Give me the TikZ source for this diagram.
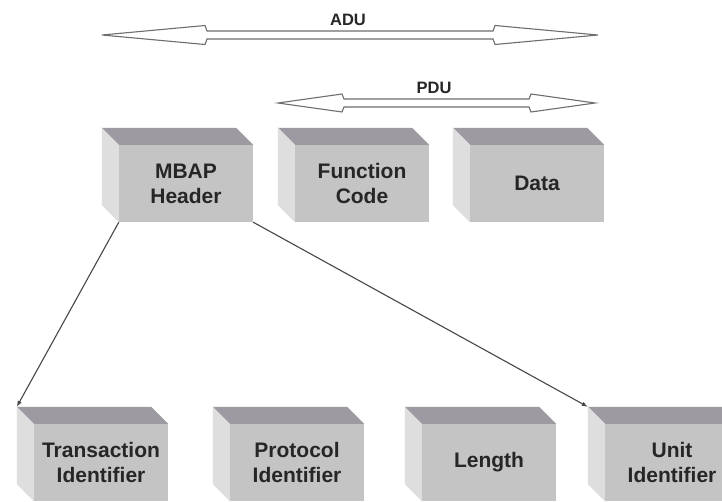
\documentclass[tikz,border=0pt]{standalone}
\usepackage{fontspec}
\setmainfont{Liberation Sans}
\usepackage{tikz}
\usetikzlibrary{shapes,positioning,calc}
\usetikzlibrary{arrows.meta}
\definecolor{frontale}{RGB}{196,196,196}
\definecolor{superiore}{RGB}{158,154,162}
\definecolor{laterale}{RGB}{222,222,222}
\definecolor{bordo}{RGB}{110,110,110}
\tikzstyle{blocco} = [rectangle, fill=frontale, minimum width=134pt, minimum height=77pt, inner sep=0pt, align=center, text=black!85, font=\fontsize{21}{25}\selectfont\bfseries]
\tikzstyle{etichetta} = [text=black!85, font=\fontsize{16.5}{18}\selectfont\bfseries]
\tikzstyle{freccia} = [draw=bordo, fill=white, line width=1.1pt]
\tikzstyle{linea} = [draw=black!72, line width=1.1pt, -{Latex[length=6pt,width=4.5pt]}]

\begin{document}
\begin{tikzpicture}[x=1pt,y=-1pt]
	\useasboundingbox (0,0) rectangle (722,501);
	\fill[white] (0,0) rectangle (722,501);
	% frecce ADU e PDU
	\coordinate (adu-l) at (102,35);
	\coordinate (adu-r) at (598,35);
	\draw[freccia] (adu-l) -- ++(103,-9.5) -- ++(2,5.5) -- ($(adu-r)+(-105,-4)$) -- ($(adu-r)+(-103,-9.5)$) -- (adu-r)
		-- ($(adu-r)+(-103,9.5)$) -- ($(adu-r)+(-105,4)$) -- ($(adu-l)+(105,4)$) -- ($(adu-l)+(103,9.5)$) -- cycle;
	\node[etichetta] (adu) at (348,20) {ADU};
	\coordinate (pdu-l) at (278,103);
	\coordinate (pdu-r) at (595,103);
	\draw[freccia] (pdu-l) -- ++(64,-9) -- ++(2,5) -- ($(pdu-r)+(-66,-4)$) -- ($(pdu-r)+(-64,-9)$) -- (pdu-r)
		-- ($(pdu-r)+(-64,9)$) -- ($(pdu-r)+(-66,4)$) -- ($(pdu-l)+(66,4)$) -- ($(pdu-l)+(64,9)$) -- cycle;
	\node[etichetta] (pdu) at (434,88) {PDU};
	% blocchi
	\node (mbap) at (186,183.5) [blocco] {MBAP\\Header};
	\node (funz) at (362,183.5) [blocco] {Function\\Code};
	\node (dati) at (537,183.5) [blocco] {Data};
	\node (trans) at (101,462.5) [blocco] {Transaction\\Identifier};
	\node (prot) at (297,462.5) [blocco] {Protocol\\Identifier};
	\node (lung) at (489,462.5) [blocco] {Length};
	\node (unit) at (672,462.5) [blocco] {Unit\\Identifier};
	\foreach \b in {mbap,funz,dati,trans,prot,lung,unit}{
		\fill[superiore] (\b.north west) -- ++(-17,-17) -- ($(\b.north east)+(-17,-17)$) -- (\b.north east) -- cycle;
		\fill[laterale] (\b.north west) -- ++(-17,-17) -- ($(\b.south west)+(-17,-17)$) -- (\b.south west) -- cycle;
	}
	% collegamenti
	\coordinate (trans-c) at ($(trans.north west)+(-17,-17)$);
	\coordinate (unit-c) at ($(unit.north west)+(-17,-17)$);
	\draw[linea] (mbap.south west) -- (trans-c);
	\draw[linea] (mbap.south east) -- (unit-c);
\end{tikzpicture}
\end{document}
